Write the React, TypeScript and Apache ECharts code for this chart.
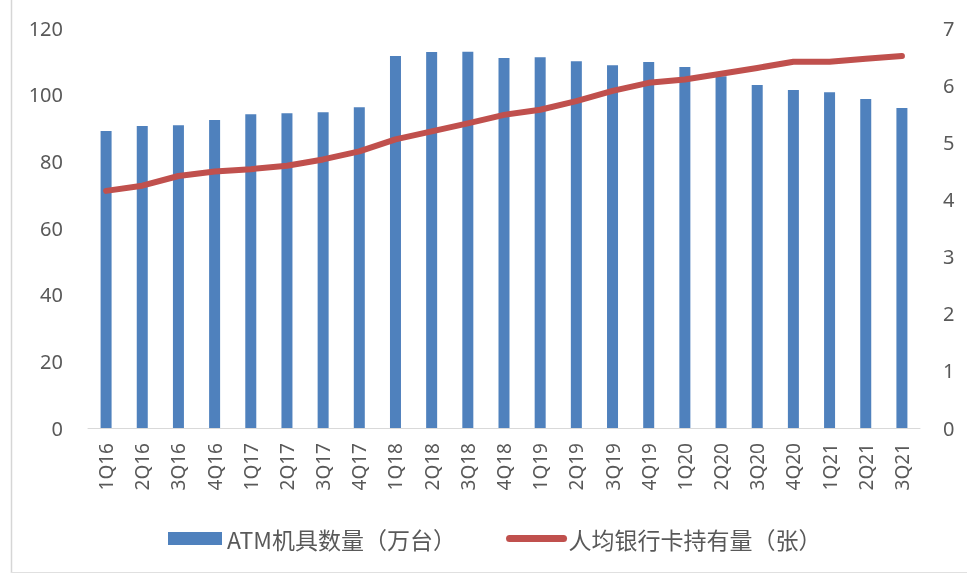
import React, { useEffect, useRef } from "react";
import * as echarts from "echarts";

const categories = ["1Q16","2Q16","3Q16","4Q16","1Q17","2Q17","3Q17","4Q17","1Q18","2Q18","3Q18","4Q18","1Q19","2Q19","3Q19","4Q19","1Q20","2Q20","3Q20","4Q20","1Q21","2Q21","3Q21"];
const atmCount = [89.1,90.6,90.8,92.4,94.1,94.4,94.7,96.2,111.6,112.8,112.9,111.0,111.2,110.0,108.8,109.8,108.3,105.5,102.9,101.4,100.7,98.7,96.0];
const cardsPerCapita = [4.15,4.24,4.41,4.49,4.53,4.59,4.70,4.84,5.05,5.19,5.33,5.48,5.57,5.72,5.90,6.04,6.10,6.20,6.30,6.41,6.41,6.46,6.51];
const seriesNames = ["ATM机具数量（万台）", "人均银行卡持有量（张）"];

export default function App() {
  const ref = useRef<HTMLDivElement>(null);
  useEffect(() => {
    const chart = echarts.init(ref.current!, null, { renderer: "svg" });
    const font = "'Noto Sans', 'Noto Sans CJK SC', sans-serif";
    chart.setOption({
      animation: false,
      textStyle: { fontFamily: font },
      graphic: [
        {
          type: "line",
          shape: { x1: 11.5, y1: 0, x2: 11.5, y2: 573 },
          style: { stroke: "#d6d6d6", lineWidth: 1.5 },
          silent: true,
        },
        {
          type: "line",
          shape: { x1: 11, y1: 572.5, x2: 967, y2: 572.5 },
          style: { stroke: "#e0e0e0", lineWidth: 1 },
          silent: true,
        },
      ],
      grid: { left: 88, right: 47, top: 28, bottom: 146 },
      legend: {
        top: 522,
        left: 163,
        itemGap: 50,
        textStyle: { fontSize: 23, color: "#595959", fontFamily: "'Noto Sans CJK SC', sans-serif" },
        data: [
          { name: seriesNames[0], icon: "rect", itemStyle: { color: "#4F81BD" } },
          {
            name: seriesNames[1],
            lineStyle: { width: 7, color: "#C0504D", cap: "round" },
            itemStyle: { opacity: 0 },
          },
        ],
        itemWidth: 54,
        itemHeight: 13,
      },
      xAxis: {
        type: "category",
        data: categories,
        axisLine: { lineStyle: { color: "#d9d9d9", width: 1 } },
        axisTick: { show: false },
        axisLabel: { rotate: 90, color: "#595959", fontSize: 19, margin: 15, interval: 0 },
      },
      yAxis: [
        {
          type: "value",
          min: 0,
          max: 120,
          interval: 20,
          splitLine: { show: false },
          axisLine: { show: false },
          axisTick: { show: false },
          axisLabel: { color: "#595959", fontSize: 20, margin: 25 },
        },
        {
          type: "value",
          min: 0,
          max: 7,
          interval: 1,
          splitLine: { show: false },
          axisLine: { show: false },
          axisTick: { show: false },
          axisLabel: { color: "#595959", fontSize: 20, margin: 23 },
        },
      ],
      series: [
        {
          name: seriesNames[0],
          type: "bar",
          data: atmCount,
          barWidth: 11,
          itemStyle: { color: "#4F81BD" },
          yAxisIndex: 0,
        },
        {
          name: seriesNames[1],
          type: "line",
          data: cardsPerCapita,
          yAxisIndex: 1,
          symbol: "none",
          lineStyle: { color: "#C0504D", width: 6, cap: "round", join: "round" },
          itemStyle: { color: "#C0504D" },
        },
      ],
    });
    return () => chart.dispose();
  }, []);
  return (
    <div
      ref={ref}
      style={{ position: "fixed", left: 0, top: 0, width: 967, height: 574 }}
    />
  );
}
